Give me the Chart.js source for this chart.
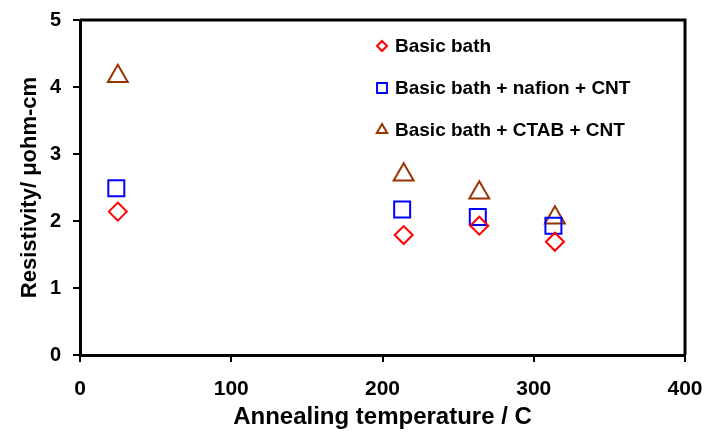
<!DOCTYPE html>
<html>
<head>
<meta charset="utf-8">
<script src="https://cdn.jsdelivr.net/npm/chart.js@4/dist/chart.umd.min.js"></script>
<style>
  html, body { margin: 0; padding: 0; background: #fff; }
  #wrap { width: 705px; height: 433px; }
</style>
</head>
<body>
<div id="wrap"><canvas id="chart" width="705" height="433"></canvas></div>
<script>
const seriesNames = ['Basic bath', 'Basic bath + nafion + CNT', 'Basic bath + CTAB + CNT'];
const basicTemp = [25, 214, 264, 314];
const basicRes = [2.14, 1.79, 1.93, 1.69];
const nafionTemp = [24, 213, 263, 313];
const nafionRes = [2.49, 2.17, 2.06, 1.93];
const ctabTemp = [25, 214, 264, 314];
const ctabRes = [4.16, 2.69, 2.42, 2.05];
const xTicks = [0, 100, 200, 300, 400];
const yTicks = [0, 1, 2, 3, 4, 5];

const FONT = '"Liberation Sans", Arial, sans-serif';

function points(xs, ys) {
  return xs.map((x, i) => ({ x: x, y: ys[i] }));
}

// legend drawn inside the plot area, like the Excel original
const insideLegend = {
  id: 'insideLegend',
  afterDraw(chart) {
    const ctx = chart.ctx;
    const area = chart.chartArea;
    const legendSizes = [5, 7, 6];
    ctx.save();
    ctx.font = 'bold 19px ' + FONT;
    ctx.textBaseline = 'middle';
    chart.data.datasets.forEach((ds, i) => {
      const y = area.top + 26 + i * 42;
      const x = area.left + 302;
      ctx.strokeStyle = ds.borderColor;
      ctx.fillStyle = 'rgba(0,0,0,0)';
      ctx.lineWidth = 2;
      Chart.helpers.drawPoint(ctx, { pointStyle: ds.pointStyle, radius: legendSizes[i], borderWidth: 2 }, x, y);
      ctx.fillStyle = '#000';
      ctx.fillText(ds.label, x + 13, y + 1);
    });
    ctx.restore();
  }
};

// top and right frame lines
const frame = {
  id: 'frame',
  beforeDatasetsDraw(chart) {
    const { ctx, chartArea: a } = chart;
    ctx.save();
    ctx.strokeStyle = '#000';
    ctx.lineWidth = 3;
    ctx.beginPath();
    ctx.moveTo(a.left, a.top);
    ctx.lineTo(a.right, a.top);
    ctx.lineTo(a.right, a.bottom);
    ctx.stroke();
    ctx.restore();
  }
};

new Chart(document.getElementById('chart'), {
  type: 'scatter',
  data: {
    datasets: [
      {
        label: seriesNames[0],
        data: points(basicTemp, basicRes),
        pointStyle: 'rectRot',
        pointRadius: 9,
        pointBorderWidth: 2,
        borderColor: '#ff0000',
        backgroundColor: 'rgba(0,0,0,0)',
      },
      {
        label: seriesNames[1],
        data: points(nafionTemp, nafionRes),
        pointStyle: 'rect',
        pointRadius: 11.3,
        pointBorderWidth: 2,
        borderColor: '#0000ff',
        backgroundColor: 'rgba(0,0,0,0)',
      },
      {
        label: seriesNames[2],
        data: points(ctabTemp, ctabRes),
        pointStyle: 'triangle',
        pointRadius: 11.5,
        pointBorderWidth: 2,
        borderColor: '#993300',
        backgroundColor: 'rgba(0,0,0,0)',
      },
    ],
  },
  options: {
    responsive: false,
    animation: false,
    layout: { padding: { top: 20, right: 20, bottom: 0, left: 0 } },
    plugins: {
      legend: { display: false },
      tooltip: { enabled: false },
    },
    scales: {
      x: {
        type: 'linear',
        min: xTicks[0],
        max: xTicks[xTicks.length - 1],
        afterBuildTicks: (s) => { s.ticks = xTicks.map(v => ({ value: v })); },
        afterFit: (s) => { s.height = 78; s.paddingLeft = 0; s.paddingRight = 0; },
        grid: { drawOnChartArea: false, tickLength: 7, color: '#000', lineWidth: 2 },
        border: { display: true, color: '#000', width: 3 },
        ticks: { color: '#000', padding: 15, font: { family: FONT, size: 21, weight: 'bold' } },
        title: {
          display: true,
          text: 'Annealing temperature / C',
          color: '#000',
          padding: { top: 0, bottom: 1 },
          font: { family: FONT, size: 24, weight: 'bold' },
        },
      },
      y: {
        type: 'linear',
        min: yTicks[0],
        max: yTicks[yTicks.length - 1],
        afterBuildTicks: (s) => { s.ticks = yTicks.map(v => ({ value: v })); },
        afterFit: (s) => { s.width = 80; s.paddingTop = 0; s.paddingBottom = 0; },
        grid: { drawOnChartArea: false, tickLength: 7, color: '#000', lineWidth: 2 },
        border: { display: true, color: '#000', width: 3 },
        ticks: { color: '#000', padding: 12, font: { family: FONT, size: 20, weight: 'bold' } },
        title: {
          display: true,
          text: 'Resistivity/ μohm-cm',
          color: '#000',
          padding: { top: 17, bottom: 0 },
          font: { family: FONT, size: 22, weight: 'bold' },
        },
      },
    },
  },
  plugins: [frame, insideLegend],
});
</script>
</body>
</html>
